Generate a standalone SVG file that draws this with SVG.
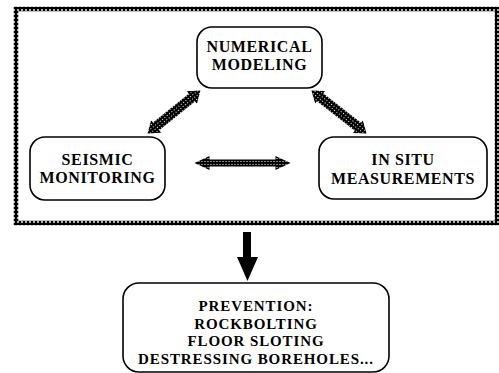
<svg xmlns="http://www.w3.org/2000/svg" width="499" height="373" viewBox="0 0 499 373">
<defs>
<pattern id="hatch" patternUnits="userSpaceOnUse" width="3" height="3">
<rect width="3" height="3" fill="#000"/>
<rect x="1" y="1" width="1" height="1" fill="#fff"/>
</pattern>
<pattern id="chain" patternUnits="userSpaceOnUse" width="4" height="4">
<rect width="4" height="4" fill="#000"/>
<circle cx="2" cy="2" r="0.9" fill="#fff"/>
</pattern>
<style>
.box{fill:#fff;stroke:#000;stroke-width:1.6}
.t{font-family:"Liberation Serif","Times New Roman",serif;font-weight:bold;font-size:16px;letter-spacing:0.6px;fill:#000;text-anchor:middle}
.p{font-size:15px;letter-spacing:0.9px}
.darrow{fill:url(#hatch)}
</style>
</defs>
<rect width="499" height="373" fill="#fff"/>
<rect id="frame" x="16" y="9" width="481" height="214" fill="none" stroke="url(#chain)" stroke-width="4.5"/>
<g id="connectors">
<path class="darrow" transform="translate(174,112) rotate(-39)" d="M-34 0 L-23 -8 L-23 -5 L23 -5 L23 -8 L34 0 L23 8 L23 5 L-23 5 L-23 8 Z"/>
<path class="darrow" transform="translate(339,112) rotate(38)" d="M-35 0 L-24 -8 L-24 -5 L24 -5 L24 -8 L35 0 L24 8 L24 5 L-24 5 L-24 8 Z"/>
<path class="darrow" transform="translate(242.5,163)" d="M-48 0 L-33 -7 L-33 -3.5 L33 -3.5 L33 -7 L48 0 L33 7 L33 3.5 L-33 3.5 L-33 7 Z"/>
<path fill="#000" d="M243 232 L251 232 L251 257 L258 257 L247.5 281 L237 257 L243 257 Z"/>
</g>
<g id="numerical">
<rect class="box" x="197" y="27" width="125" height="61" rx="15"/>
<text class="t" x="259.5" y="52">NUMERICAL</text>
<text class="t" x="259.5" y="70">MODELING</text>
</g>
<g id="seismic">
<rect class="box" x="30" y="137" width="135" height="63" rx="15"/>
<text class="t" x="97.5" y="165">SEISMIC</text>
<text class="t" x="97.5" y="183">MONITORING</text>
</g>
<g id="insitu">
<rect class="box" x="319" y="137" width="168" height="62" rx="15"/>
<text class="t" x="403" y="165">IN SITU</text>
<text class="t" x="403" y="184">MEASUREMENTS</text>
</g>
<g id="prevention">
<rect class="box" x="123" y="283" width="266" height="89" rx="16"/>
<text class="t p" x="256" y="311">PREVENTION:</text>
<text class="t p" x="256" y="328.5">ROCKBOLTING</text>
<text class="t p" x="256" y="346">FLOOR SLOTING</text>
<text class="t p" x="256" y="363.5">DESTRESSING BOREHOLES...</text>
</g>
</svg>
